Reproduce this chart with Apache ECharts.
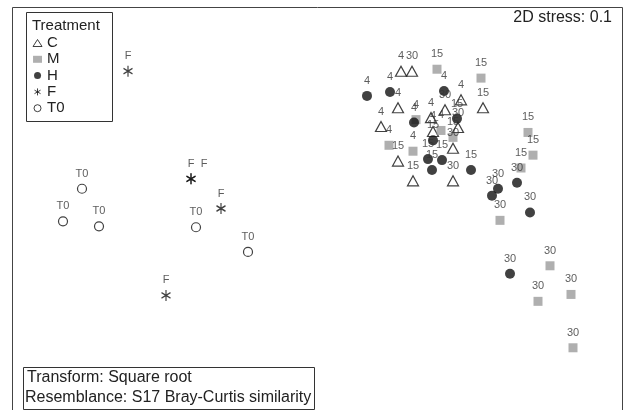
<!DOCTYPE html>
<html><head><meta charset="utf-8">
<script src="https://cdn.jsdelivr.net/npm/echarts@6/dist/echarts.min.js"></script>
<style>html,body{margin:0;padding:0;background:#fff}#c{width:624px;height:410px}</style>
</head><body><div id="c"></div>
<script>
// nMDS ordination coordinates (arbitrary units) and sample labels (days)
const cX = [389,400,386,449,471,369,419,433,446,421,441,386,401,441];
const cY = [343,343,306,314,306,287,296,304,286,282,265,252,232,232];
const cLab = ['4','30','4','4','15','4','4','30','30','4','30','15','15','30'];

const mX = [425,469,404,429,441,377,401,516,521,509,488,538,559,526,561];
const mY = [345,336,294,283,276,268,262,281,258,245,192,146,117,110,63];
const mLab = ['15','15','4','4','15','4','4','15','15','15','30','30','30','30','30'];

const hX = [355,378,432,402,445,421,416,430,420,459,505,486,480,518,498];
const hY = [318,322,323,291,295,273,254,253,243,243,230,224,217,200,138];
const hLab = ['4','4','4','4','15','15','15','15','15','15','30','30','30','30','30'];

const fX = [116,179,179,209,154];
const fY = [343,234,234,204,116];
const fLab = ['F','F','F','F','F'];

const tX = [70,51,87,184,236];
const tY = [224,191,186,185,160];
const tLab = ['T0','T0','T0','T0','T0'];

const FONT = "'Liberation Sans', Arial, Helvetica, sans-serif";
const ASTER = 'path://M5,0V10M0.67,2.5L9.33,7.5M0.67,7.5L9.33,2.5';

function pts(xs, ys, labs){
  return xs.map((x,i)=>{
    const d = {value:[x, ys[i]], name: labs[i]};
    if (i>0 && xs[i-1]===x && ys[i-1]===ys[i]) {
      d.label = {offset:[13,-15]};
    }
    return d;
  });
}
const lbl = {show:true, position:'inside', offset:[0,-15], formatter:p=>p.name,
  fontSize:11, color:'#333', fontFamily:FONT};

const series = [
  {name:'C', type:'scatter', symbol:'triangle', symbolSize:[11,10],
   itemStyle:{color:'rgba(255,255,255,0)', borderColor:'#111', borderWidth:1.2},
   label:lbl, data:pts(cX,cY,cLab)},
  {name:'M', type:'scatter', symbol:'rect', symbolSize:9,
   itemStyle:{color:'#9b9b9b'}, label:lbl, data:pts(mX,mY,mLab)},
  {name:'H', type:'scatter', symbol:'circle', symbolSize:10,
   itemStyle:{color:'#111'}, label:lbl, data:pts(hX,hY,hLab)},
  {name:'F', type:'scatter', symbol:ASTER, symbolSize:[9,11],
   itemStyle:{color:'none', borderColor:'#111', borderWidth:1.3},
   label:lbl, data:pts(fX,fY,fLab)},
  {name:'T0', type:'scatter', symbol:'circle', symbolSize:9,
   itemStyle:{color:'rgba(255,255,255,0)', borderColor:'#111', borderWidth:1.2},
   label:lbl, data:pts(tX,tY,tLab)}
];

const chart = echarts.init(document.getElementById('c'), null, {renderer:'canvas'});
chart.setOption({
  animation:false,
  backgroundColor:'#fff',
  grid:{left:12, top:7, right:1, bottom:-5, show:false},
  xAxis:{type:'value', min:0, max:611, show:false},
  yAxis:{type:'value', min:0, max:408, show:false},
  legend:{orient:'vertical', left:32, top:35, padding:0, itemGap:0.3,
    itemWidth:9, itemHeight:7,
    itemStyle:{borderWidth:1},
    textStyle:{fontSize:15, fontFamily:FONT, color:'#222', lineHeight:16},
    data:['C','M','H','F','T0']},
  graphic:[
    {type:'polyline', shape:{points:[[12.5,420],[12.5,7.5],[622.5,7.5],[622.5,420]]},
     style:{stroke:'#444', lineWidth:1, fill:null}, z:-2},
    {type:'rect', shape:{x:26.5, y:12.5, width:86, height:109},
     style:{fill:'#fff', stroke:'#333', lineWidth:1}, z:-1},
    {type:'text', x:32, y:26, style:{text:'Treatment', font:'15px '+FONT, fill:'#222', textVerticalAlign:'middle'}},
    {type:'text', right:12, top:10, style:{text:'2D stress: 0.1', font:'16px '+FONT, fill:'#222'}},
    {type:'rect', shape:{x:23.5, y:367.5, width:291, height:42},
     style:{fill:'#fff', stroke:'#333', lineWidth:1}},
    {type:'text', x:27, y:378, style:{text:'Transform: Square root', font:'16px '+FONT, fill:'#222', textVerticalAlign:'middle'}},
    {type:'text', x:25, y:398, style:{text:'Resemblance: S17 Bray-Curtis similarity', font:'16px '+FONT, fill:'#222', textVerticalAlign:'middle'}}
  ],
  series: series
});
</script>
</body></html>
